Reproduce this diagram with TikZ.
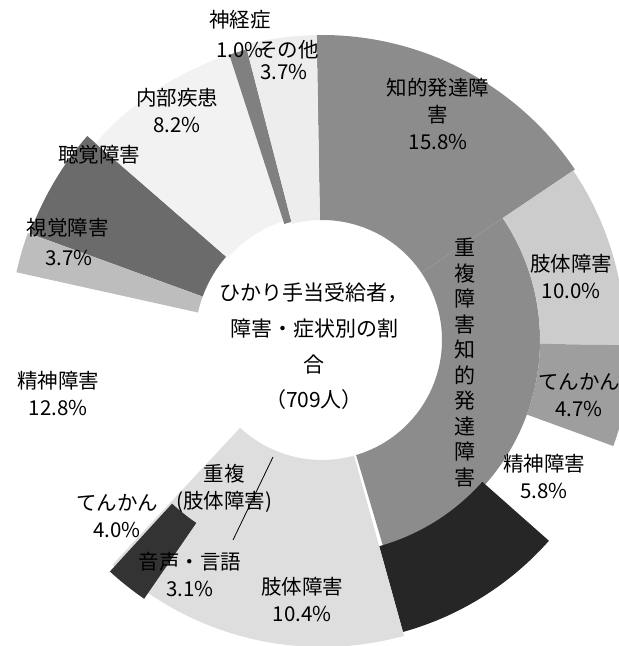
\documentclass[tikz,border=0pt]{standalone}
\usepackage{fontspec}
\setmainfont{Noto Sans CJK JP}
\begin{document}
\begin{tikzpicture}[x=1pt,y=1pt,
  lbl/.style={font=\fontsize{20.5}{27}\selectfont, align=center, inner sep=0pt},
  ctr/.style={font=\fontsize{21}{35.7}\selectfont, align=center, inner sep=0pt},
  vert/.style={font=\fontsize{21}{25.5}\selectfont, align=center, inner sep=0pt},
  leader/.style={line width=0.8pt, black}]
\useasboundingbox (0,0) rectangle (619,646);
\newcommand\ringseg[5]{\fill[#5] (#1:#4) arc[start angle=#1,end angle=#2,radius=#4] -- (#2:#3) arc[start angle=#2,end angle=#1,radius=#3] -- cycle;}
\coordinate (C) at (322,306);
\begin{scope}[shift={(C)}]
 % 知的発達障害
 \ringseg{91}{34}{120pt}{305pt}{black!45}
 % 重複（知的発達障害） inner ring
 \ringseg{34}{-73.5}{120pt}{218pt}{black!45}
 % 肢体障害 10.0%
 \ringseg{34}{-1}{218pt}{303pt}{black!20}
 % てんかん 4.7%
 \ringseg{-1}{-20}{218pt}{310pt}{black!38}
 % その他 (dark)
 \ringseg{-41.5}{-74.5}{214pt}{303pt}{black!85}
 % 重複（肢体障害）
 \ringseg{-74.5}{-133}{120pt}{307pt}{black!13}
 % dark box
 \ringseg{-124.5}{-132.5}{222pt}{314pt}{black!80}
 % 聴覚障害
 \ringseg{139}{160}{127pt}{311pt}{black!58}
 % 視覚障害
 \ringseg{160}{167.5}{127pt}{313pt}{black!26}
 % 内部疾患
 \ringseg{108}{139}{125pt}{300pt}{black!5}
 % 神経症
 \ringseg{104.5}{108}{122pt}{300pt}{black!50}
 % その他 3.7%
 \ringseg{91}{104.5}{120pt}{305pt}{black!7}
\end{scope}
% leader line for 重複（肢体障害）
\coordinate (ldA) at (273,189);
\coordinate (ldB) at (233,106);
\draw[leader] (ldA) -- (ldB);
% labels
\node[lbl] (shinkei) at (240,626) {神経症};
\node[lbl] (shinkeip) at (240,596) {1.0\%};
\node[lbl] (sonota) at (288,596) {その他};
\node[lbl] (sonotap) at (284,574) {3.7\%};
\node[lbl] (naibu) at (177,535) {内部疾患\\8.2\%};
\node[lbl] (choukaku) at (99,491) {聴覚障害};
\node[lbl] (shikaku) at (68,418) {視覚障害};
\node[lbl] (shikakup) at (69,388) {3.7\%};
\node[lbl] (chiteki) at (438,532) {知的発達障\\害\\15.8\%};
\node[vert] (juufuku) at (465,283.5) {重\\複\\障\\害\\知\\的\\発\\達\\障\\害};
\node[lbl] (shitaiA) at (571,369.5) {肢体障害\\10.0\%};
\node[lbl] (tenkanA) at (579,251) {てんかん\\4.7\%};
\node[lbl] (seishinA) at (544,169.5) {精神障害\\5.8\%};
\node[lbl] (shitaiB) at (302,46) {肢体障害\\10.4\%};
\node[lbl] (seishinB) at (58,252) {精神障害\\12.8\%};
\node[lbl] (juufukuB) at (224,157.5) {重複\\(肢体障害)};
\node[lbl] (tenkanB) at (117,130) {てんかん\\4.0\%};
\node[lbl] (onsei) at (190,71) {音声・言語\\3.1\%};
\node[ctr] (title) at (314,299.5) {ひかり手当受給者，\\障害・症状別の割\\合\\（709人）};
\end{tikzpicture}
\end{document}
